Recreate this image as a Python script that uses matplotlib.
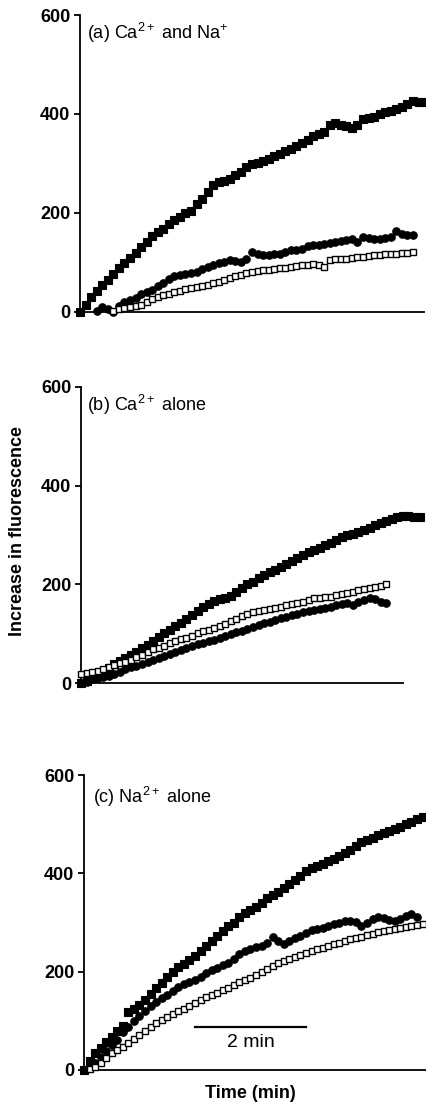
import matplotlib
matplotlib.use("Agg")
import matplotlib.pyplot as plt
import numpy as np

plt.rcParams["font.family"] = ["Liberation Sans", "DejaVu Sans"]
plt.rcParams["mathtext.fontset"] = "custom"
plt.rcParams["mathtext.rm"] = "Liberation Sans"
plt.rcParams["mathtext.it"] = "Liberation Sans:italic"
plt.rcParams["mathtext.bf"] = "Liberation Sans:bold"

# sample times (min), read every 0.1 min off the trace
T = [0.0, 0.1, 0.2, 0.3, 0.4, 0.5, 0.6, 0.7, 0.8, 0.9,
     1.0, 1.1, 1.2, 1.3, 1.4, 1.5, 1.6, 1.7, 1.8, 1.9,
     2.0, 2.1, 2.2, 2.3, 2.4, 2.5, 2.6, 2.7, 2.8, 2.9,
     3.0, 3.1, 3.2, 3.3, 3.4, 3.5, 3.6, 3.7, 3.8, 3.9,
     4.0, 4.1, 4.2, 4.3, 4.4, 4.5, 4.6, 4.7, 4.8, 4.9,
     5.0, 5.1, 5.2, 5.3, 5.4, 5.5, 5.6, 5.7, 5.8, 5.9,
     6.0, 6.1, 6.2]

# (a) Ca2+ and Na+  (start index, values)
A_FILLED = (0, [0, 14, 31, 42, 54, 65, 76, 88, 98, 110,
                120, 132, 142, 153, 161, 168, 177, 185, 192, 200,
                205, 218, 228, 242, 256, 262, 264, 268, 276, 282,
                292, 298, 301, 305, 310, 315, 320, 325, 330, 335,
                341, 348, 355, 360, 364, 378, 381, 378, 375, 372,
                378, 390, 392, 394, 400, 404, 407, 410, 414, 420,
                426, 424, 425])
A_CIRCLE = (3, [2, 10, 6, 0, 12, 20, 24,
                28, 36, 41, 45, 52, 59, 67, 72, 75, 77,
                79, 81, 86, 91, 95, 98, 101, 106, 104, 100,
                108, 121, 118, 115, 116, 118, 118, 122, 125, 126,
                128, 133, 135, 136, 138, 140, 141, 143, 146, 148,
                142, 151, 150, 148, 148, 150, 152, 163, 158, 155,
                155])
A_OPEN = (6, [3, 6, 8, 10,
              12, 14, 20, 27, 31, 34, 37, 40, 43, 46,
              48, 50, 52, 55, 58, 60, 64, 68, 72, 75,
              78, 81, 82, 84, 85, 87, 88, 89, 91, 92,
              94, 95, 96, 94, 91, 106, 108, 107, 108, 110,
              111, 112, 114, 115, 116, 118, 118, 118, 119, 120,
              121])

# (b) Ca2+ alone
B_FILLED = (0, [0, 5, 10, 16, 22, 30, 38, 44, 50, 57,
                63, 70, 78, 86, 94, 101, 108, 115, 122, 130,
                138, 146, 154, 161, 166, 170, 173, 177, 185, 193,
                200, 205, 212, 219, 224, 230, 236, 242, 248, 253,
                259, 265, 270, 274, 279, 284, 289, 295, 300, 303,
                307, 311, 315, 320, 325, 329, 333, 337, 339, 338,
                337, 336])
B_CIRCLE = (0, [0, 3, 8, 11, 13, 15, 18, 23, 28, 32,
                35, 38, 42, 47, 51, 55, 59, 62, 66, 71,
                75, 79, 82, 85, 88, 92, 95, 99, 103, 106,
                110, 114, 117, 121, 124, 128, 131, 134, 137, 140,
                143, 146, 148, 150, 153, 155, 158, 160, 162, 158,
                164, 168, 172, 170, 165, 162])
B_OPEN = (0, [18, 20, 22, 25, 28, 33, 37, 40, 43, 47,
              52, 57, 63, 68, 71, 75, 82, 86, 89, 92,
              96, 101, 105, 108, 112, 116, 120, 125, 130, 135,
              140, 144, 146, 148, 150, 152, 155, 158, 160, 162,
              165, 168, 172, 173, 174, 175, 178, 181, 183, 185,
              188, 191, 192, 194, 196, 201])

# (c) Na+ alone
C_FILLED = (0, [0, 18, 34, 45, 57, 68, 80, 90, 118, 124,
                132, 143, 155, 166, 177, 190, 200, 210, 216, 224,
                232, 242, 252, 262, 273, 283, 292, 300, 312, 320,
                326, 332, 340, 350, 356, 362, 370, 378, 386, 395,
                404, 410, 414, 420, 425, 430, 436, 442, 448, 455,
                463, 468, 472, 478, 483, 487, 491, 495, 500, 504,
                510, 514])
C_CIRCLE = (0, [0, 6, 15, 26, 38, 50, 62, 78, 88, 100,
                110, 120, 130, 138, 146, 152, 160, 168, 174, 180,
                184, 190, 198, 204, 208, 213, 218, 226, 236, 243,
                247, 250, 252, 258, 270, 262, 257, 262, 268, 272,
                278, 284, 286, 288, 292, 296, 300, 304, 304, 302,
                293, 300, 308, 312, 310, 306, 304, 308, 314, 318,
                311])
C_OPEN = (1, [2, 6, 14, 24, 34, 40, 47, 55, 63,
              72, 80, 88, 95, 102, 108, 114, 120, 125, 131,
              137, 142, 148, 153, 157, 162, 167, 172, 178, 183,
              188, 194, 200, 206, 212, 218, 222, 226, 230, 234,
              238, 243, 246, 249, 252, 256, 259, 263, 266, 268,
              271, 274, 277, 280, 283, 285, 287, 289, 291, 293,
              295, 297])

PANELS = [
    (r"(a) Ca$^{2+}$ and Na$^{+}$", A_FILLED, A_CIRCLE, A_OPEN),
    (r"(b) Ca$^{2+}$ alone", B_FILLED, B_CIRCLE, B_OPEN),
    (r"(c) Na$^{2+}$ alone", C_FILLED, C_CIRCLE, C_OPEN),
]
Y_TICKS = [0, 200, 400, 600]
SCALE_BAR = (2.0, 4.0)   # min, drawn in panel (c)

W, H = 427, 1102
PX_PER_MIN = 55.5
# axis geometry in pixels: left spine x, right end of x-axis, y of 0, y of 600
GEOM = [(80, 424, 312, 15), (81, 403, 683, 387), (84, 426, 1070, 775)]
LABEL_POS = [(0.02, 0.939), (0.02, 0.939), (0.025, 0.925)]

fig = plt.figure(figsize=(W / 100, H / 100), dpi=100, facecolor="white")


def series(ax, data, **kw):
    start, vals = data
    ax.plot(T[start:start + len(vals)], vals, ls="none", clip_on=False, **kw)


for (label, filled, circ, opn), (x0, x1, y0, y6), (lx, ly) in zip(PANELS, GEOM, LABEL_POS):
    ax = fig.add_axes([x0 / W, 1 - y0 / H, (x1 - x0) / W, (y0 - y6) / H])
    ax.set_xlim(0, (x1 - x0) / PX_PER_MIN)
    ax.set_ylim(0, 600)
    series(ax, filled, marker="s", ms=5.2, mfc="black", mec="black", mew=0.8, zorder=3)
    series(ax, circ, marker="o", ms=5.4, mfc="black", mec="black", mew=0.8, zorder=3)
    series(ax, opn, marker="s", ms=4.2, mfc="white", mec="black", mew=1.0, zorder=4)
    for s in ("top", "right"):
        ax.spines[s].set_visible(False)
    ax.spines["left"].set_linewidth(1.3)
    ax.spines["bottom"].set_linewidth(1.3)
    ax.set_xticks([])
    ax.set_yticks(Y_TICKS)
    ax.set_yticklabels([str(v) for v in Y_TICKS], fontsize=13, fontweight="bold")
    ax.tick_params(axis="y", direction="out", length=4, width=1.3, pad=3)
    ax.text(lx, ly, label, transform=ax.transAxes, fontsize=13, va="center", ha="left")
    ax.patch.set_alpha(0)
    last = ax

last.plot(SCALE_BAR, [87, 87], color="black", lw=1.6, clip_on=False)
last.text(sum(SCALE_BAR) / 2, 55, "2 min", ha="center", va="center", fontsize=14)

fig.text(250 / W, 1 - 1093 / H, "Time (min)", ha="center", va="center",
         fontsize=13, fontweight="bold")
fig.text(18 / W, 1 - 531 / H, "Increase in fluorescence", ha="center", va="center",
         rotation=90, fontsize=13, fontweight="bold")

fig.savefig("out.png", dpi=100, facecolor="white")
